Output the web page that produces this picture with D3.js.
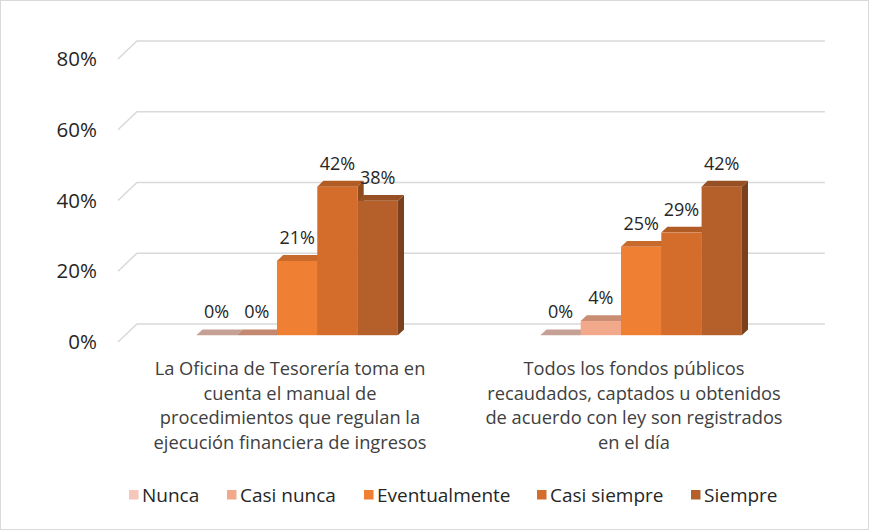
<!DOCTYPE html>
<html>
<head>
<meta charset="utf-8">
<script src="https://cdn.jsdelivr.net/npm/d3@7"></script>
<style>
  body { margin: 0; background: #fff; }
  text { font-family: "Open Sans", Lato, sans-serif; fill: #262626; }
</style>
</head>
<body>
<div id="viz-container"></div>
<script>
// data
let categories = [
  ["La Oficina de Tesorería toma en", "cuenta el manual de", "procedimientos que regulan la", "ejecución financiera de ingresos"],
  ["Todos los fondos públicos", "recaudados, captados u obtenidos", "de acuerdo con ley son registrados", "en el día"]
];
let series = ["Nunca", "Casi nunca", "Eventualmente", "Casi siempre", "Siempre"];
let nunca = [0, 0];
let casiNunca = [0, 4];
let eventualmente = [21, 25];
let casiSiempre = [42, 29];
let siempre = [38, 42];
let values = [nunca, casiNunca, eventualmente, casiSiempre, siempre];
let colors = ["#f4c7b8", "#f2a98b", "#ee7f33", "#d46d2c", "#b5602a"];
let yTicks = [0, 20, 40, 60, 80];

let W = 869, H = 530;
let viz = d3.select("#viz-container")
  .append("svg")
  .attr("width", W)
  .attr("height", H);

viz.append("rect").attr("x", 0.5).attr("y", 0.5).attr("width", W - 1).attr("height", H - 1)
  .attr("fill", "#fff").attr("stroke", "#d9d9d9");

// depth projection: shift right and up
let wallDepth = 18.5;
function off(d) { return [d * 1.02, -d * 0.97]; }

let y = d3.scaleLinear().domain([0, 80]).range([342, 59]);
let x0 = d3.scaleBand().domain([0, 1]).range([118, 806]);
let barW = 40.3;
let groupW = barW * series.length;
let x1 = d3.scaleBand().domain(series)
  .range([(x0.bandwidth() - groupW) / 2, (x0.bandwidth() + groupW) / 2]);

// gridlines
let grid = viz.append("g");
yTicks.forEach(function(t) {
  let o = off(wallDepth);
  let pts = [[118, y(t)], [118 + o[0], y(t) + o[1]], [806 + o[0], y(t) + o[1]]];
  grid.append("path")
    .attr("d", d3.line()(pts))
    .attr("fill", "none")
    .attr("stroke", "#d9d9d9")
    .attr("stroke-width", 1.5);
  viz.append("text")
    .attr("x", 97).attr("y", y(t))
    .attr("dy", "0.35em")
    .attr("text-anchor", "end")
    .style("font-size", "20.5px")
    .text(t + "%");
});

// bars
let frontD = 7, backD = 13;
let bars = viz.append("g");
let labels = viz.append("g");
categories.forEach(function(cat, ci) {
  series.forEach(function(s, si) {
    let v = values[si][ci];
    let c = colors[si];
    let f = off(frontD), b = off(backD);
    let xl = x0(ci) + x1(s) + f[0];
    let xr = xl + barW;
    let yb = y(0) + f[1];
    let yt = y(v) + f[1];
    let dx = b[0] - f[0], dy = b[1] - f[1];
    // side
    if (v > 0) {
      bars.append("path")
        .attr("d", d3.line()([[xr, yt], [xr + dx, yt + dy], [xr + dx, yb + dy], [xr, yb]]) + "Z")
        .attr("fill", d3.color(c).darker(1.1));
    }
    // top
    bars.append("path")
      .attr("d", d3.line()([[xl, yt], [xl + dx, yt + dy], [xr + dx, yt + dy], [xr, yt]]) + "Z")
      .attr("fill", v > 0 ? d3.color(c).darker(0.5) : d3.color(c).darker(0.6));
    // front
    if (v > 0) {
      bars.append("rect")
        .attr("x", xl).attr("y", yt)
        .attr("width", barW).attr("height", yb - yt)
        .attr("fill", c);
    }
    labels.append("text")
      .attr("x", xl + barW / 2)
      .attr("y", yt - 17)
      .attr("text-anchor", "middle")
      .style("font-size", "18px")
      .text(v + "%");
  });

  // category label
  let cx = x0(ci) + x0.bandwidth() / 2;
  let t = viz.append("text")
    .attr("text-anchor", "middle")
    .style("font-size", "18.3px")
    .style("fill", "#404040");
  cat.forEach(function(line, li) {
    t.append("tspan")
      .attr("x", cx)
      .attr("y", 375 + li * 24.5)
      .text(line);
  });
});

// legend
let legendX = [129, 227, 364, 537, 691];
let legend = viz.append("g");
series.forEach(function(s, si) {
  legend.append("rect")
    .attr("x", legendX[si]).attr("y", 490)
    .attr("width", 9.5).attr("height", 9.5)
    .attr("fill", colors[si]);
  legend.append("text")
    .attr("x", legendX[si] + 13).attr("y", 495)
    .attr("dy", "0.35em")
    .style("font-size", "19px")
    .text(s);
});
</script>
</body>
</html>
